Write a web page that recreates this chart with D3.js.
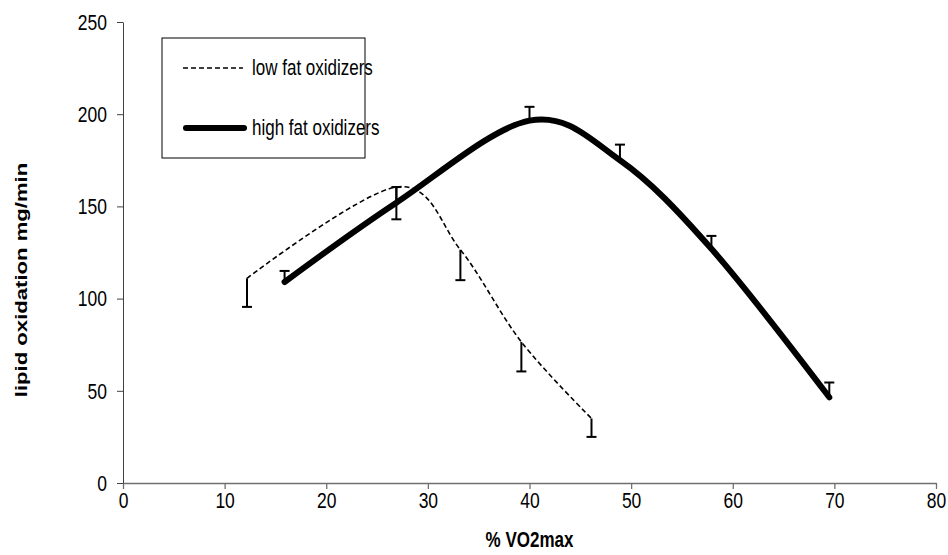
<!DOCTYPE html>
<html>
<head>
<meta charset="utf-8">
<script src="https://cdn.jsdelivr.net/npm/d3@7"></script>
<style>
  body { margin: 0; background: #fff; }
  text { font-family: "Liberation Sans", Arial, sans-serif; fill: #000; }
</style>
</head>
<body>
<svg id="chart" width="948" height="555"></svg>
<script>
// values
let xTicks = [0, 10, 20, 30, 40, 50, 60, 70, 80]
let yTicks = [0, 50, 100, 150, 200, 250]

let lowX = [12.2, 26.9, 33.2, 39.2, 46.1]
let lowY = [111, 160.5, 126.5, 76.5, 35]
let lowErr = [15.5, 17.5, 16.5, 16, 10]

let highX = [15.9, 26.9, 40.0, 48.9, 57.9, 69.5]
let highY = [109, 152, 196.5, 175, 127, 46.5]
let highErr = [6, 8.5, 7.5, 8.5, 7, 8]

let seriesNames = ["low fat oxidizers", "high fat oxidizers"]

let svg = d3.select("#chart")
let margin = {left: 123, right: 12, top: 22, bottom: 72}
let width = 948 - margin.left - margin.right
let height = 555 - margin.top - margin.bottom
let stretch = 1.3   // the source picture is taller than wide

let xScale = d3.scaleLinear().domain([0, 80]).range([0, width])
let yScale = d3.scaleLinear().domain([0, 250]).range([height, 0])

let g = svg.append("g").attr("transform", `translate(${margin.left}, ${margin.top})`)

// axes
let xAxis = d3.axisBottom(xScale).tickValues(xTicks).tickSizeInner(6).tickSizeOuter(0)
let yAxis = d3.axisLeft(yScale).tickValues(yTicks).tickSizeInner(6).tickSizeOuter(0).tickPadding(10)

let gx = g.append("g").attr("transform", `translate(0, ${height})`).call(xAxis)
let gy = g.append("g").call(yAxis)

gx.selectAll("path, line").attr("stroke", "#707070").attr("stroke-width", 1.3)
gy.selectAll("path, line").attr("stroke", "#404040").attr("stroke-width", 1)
svg.selectAll(".tick text")
    .style("font-size", "17.5px")
    .style("font-family", "Liberation Sans, Arial, sans-serif")
    .attr("fill", "#000")
    .attr("transform", `scale(1, ${stretch})`)
gx.selectAll(".tick text").attr("y", 7)

// axis titles
svg.append("text")
    .attr("transform", `translate(${margin.left + width / 2}, 547) scale(1, ${stretch})`)
    .attr("text-anchor", "middle")
    .style("font-size", "17px")
    .style("font-weight", "bold")
    .text("% VO2max")

svg.append("text")
    .attr("transform", `translate(27, 280) rotate(-90) scale(${stretch}, 1)`)
    .attr("text-anchor", "middle")
    .style("font-size", "17px")
    .style("font-weight", "bold")
    .text("lipid oxidation mg/min")

let line = d3.line()
    .x(d => xScale(d[0]))
    .y(d => yScale(d[1]))
    .curve(d3.curveCardinal.tension(0))

let lowData = lowX.map((x, i) => [x, lowY[i], lowErr[i]])
let highData = highX.map((x, i) => [x, highY[i], highErr[i]])

// error bars: low series minus, high series plus
let drawErr = (data, sign, cls) => {
    let eb = g.selectAll("." + cls).data(data).enter().append("g").attr("class", cls)
    eb.append("line")
        .attr("x1", d => xScale(d[0])).attr("x2", d => xScale(d[0]))
        .attr("y1", d => yScale(d[1])).attr("y2", d => yScale(d[1] + sign * d[2]))
        .attr("stroke", "#000").attr("stroke-width", 2)
    eb.append("line")
        .attr("x1", d => xScale(d[0]) - 5).attr("x2", d => xScale(d[0]) + 5)
        .attr("y1", d => yScale(d[1] + sign * d[2])).attr("y2", d => yScale(d[1] + sign * d[2]))
        .attr("stroke", "#000").attr("stroke-width", 2)
}
drawErr(lowData, -1, "err-low")
drawErr(highData, 1, "err-high")

g.append("path")
    .datum(lowData)
    .attr("d", line)
    .attr("fill", "none")
    .attr("stroke", "#000")
    .attr("stroke-width", 1.6)
    .attr("stroke-dasharray", "5,3")

g.append("path")
    .datum(highData)
    .attr("d", line)
    .attr("fill", "none")
    .attr("stroke", "#000")
    .attr("stroke-width", 6)
    .attr("stroke-linecap", "round")
    .attr("stroke-linejoin", "round")

// legend
let legend = svg.append("g").attr("transform", "translate(162, 38)")
legend.append("rect")
    .attr("width", 203).attr("height", 120)
    .attr("fill", "#fff").attr("stroke", "#000").attr("stroke-width", 1)

legend.append("line")
    .attr("x1", 21).attr("x2", 81).attr("y1", 30).attr("y2", 30)
    .attr("stroke", "#000").attr("stroke-width", 1.6).attr("stroke-dasharray", "5,3")
legend.append("line")
    .attr("x1", 24).attr("x2", 82).attr("y1", 90).attr("y2", 90)
    .attr("stroke", "#000").attr("stroke-width", 6).attr("stroke-linecap", "round")

legend.selectAll(".ltext")
    .data(seriesNames)
    .enter()
    .append("text")
    .attr("class", "ltext")
    .attr("transform", (d, i) => `translate(90, ${37 + i * 60}) scale(1, ${stretch})`)
    .style("font-size", "17px")
    .text(d => d)
</script>
</body>
</html>
